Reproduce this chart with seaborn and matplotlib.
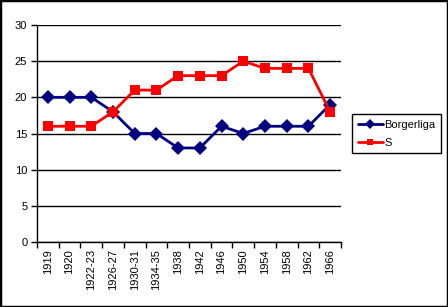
import matplotlib
matplotlib.use("Agg")
import matplotlib.pyplot as plt
import seaborn as sns
import pandas as pd
from matplotlib.patches import Rectangle
from matplotlib.lines import Line2D
from matplotlib.ticker import FixedLocator, MultipleLocator

periods = ["1919", "1920", "1922-23", "1926-27", "1930-31", "1934-35", "1938",
           "1942", "1946", "1950", "1954", "1958", "1962", "1966"]
borgerliga = [20, 20, 20, 18, 15, 15, 13, 13, 16, 15, 16, 16, 16, 19]
s_values = [16, 16, 16, 18, 21, 21, 23, 23, 23, 25, 24, 24, 24, 18]
series_names = ["Borgerliga", "S"]

df = pd.DataFrame({
    "period": periods * 2,
    "value": borgerliga + s_values,
    "series": [series_names[0]] * len(periods) + [series_names[1]] * len(periods),
})

sns.set_theme(style="white")
plt.rcParams["font.family"] = ["Liberation Sans", "DejaVu Sans"]

fig = plt.figure(figsize=(4.48, 3.07), dpi=100)
ax = fig.add_axes([37 / 448, 1 - 242 / 307, (341 - 37) / 448, (242 - 25) / 307])

palette = {"Borgerliga": "#000080", "S": "#FF0000"}
sns.lineplot(data=df, x="period", y="value", hue="series", style="series",
             markers={"Borgerliga": "D", "S": "s"}, dashes=False,
             palette=palette, sort=False, linewidth=2, markersize=7.5,
             markeredgewidth=0, ax=ax, legend=False)

ax.set_xlim(-0.5, len(periods) - 0.5)
ax.set_ylim(0, 30)
ax.yaxis.set_major_locator(MultipleLocator(5))
ax.grid(axis="y", color="black", linewidth=1)
ax.grid(axis="x", visible=False)
ax.set_axisbelow(True)
for side in ["top", "right"]:
    ax.spines[side].set_visible(False)
for side in ["left", "bottom"]:
    ax.spines[side].set_color("black")
    ax.spines[side].set_linewidth(1)

ax.set_xlabel("")
ax.set_ylabel("")
ax.tick_params(axis="x", which="major", length=0, labelsize=8, labelrotation=90, pad=5)
ax.xaxis.set_minor_locator(FixedLocator([i - 0.5 for i in range(len(periods) + 1)]))
ax.tick_params(axis="x", which="minor", length=4, width=1, color="black", direction="out", bottom=True)
ax.tick_params(axis="y", length=4, width=1, color="black", direction="out", left=True, labelsize=8, pad=3)
for lbl in ax.get_xticklabels() + ax.get_yticklabels():
    lbl.set_color("black")

handles = [
    Line2D([], [], color="#000080", marker="D", markersize=5, linewidth=2, markeredgewidth=0),
    Line2D([], [], color="#FF0000", marker="s", markersize=5, linewidth=2, markeredgewidth=0),
]
leg = fig.legend(handles, series_names, loc="upper left",
                 bbox_to_anchor=(352 / 448, 1 - 114 / 307), fontsize=8,
                 frameon=True, fancybox=False, edgecolor="black", framealpha=1,
                 handlelength=2.3, handletextpad=0.1, borderpad=0.5,
                 labelspacing=0.75, borderaxespad=0)
leg.get_frame().set_linewidth(1)
for t in leg.get_texts():
    t.set_color("black")

fig.patches.append(Rectangle((0, 0), 1, 1, transform=fig.transFigure,
                             fill=False, edgecolor="black", linewidth=2.5))

fig.savefig("out.png", dpi=100)
